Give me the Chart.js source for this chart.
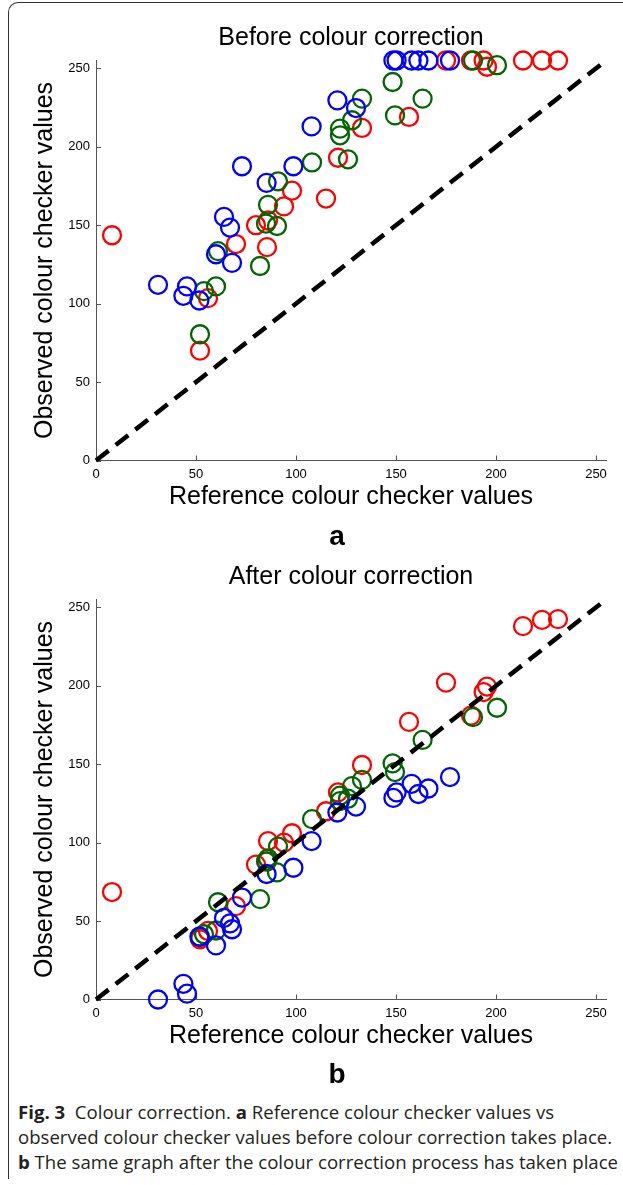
<!DOCTYPE html>
<html>
<head>
<meta charset="utf-8">
<script src="https://cdn.jsdelivr.net/npm/chart.js@4.4.1/dist/chart.umd.min.js"></script>
<style>
  body { margin: 0; background: #fff; }
  #page { position: relative; width: 623px; height: 1185px; overflow: hidden; }
  #frame { position: absolute; left: 8px; top: 2px; width: 700px; height: 1176px;
           border-left: 1px solid #333; border-top: 1px solid #333; border-top-left-radius: 10px; }
  canvas { position: absolute; left: 0; }
  .panel { position: absolute; left: 322px; width: 30px; text-align: center;
           font: bold 28px "Liberation Sans", Arial, sans-serif; line-height: 28px; }
  #caption { position: absolute; left: 18px; top: 1099px; width: 605px;
             font: 18.6px "Open Sans", sans-serif; line-height: 25px; color: #231f20; white-space: nowrap; }
</style>
</head>
<body>
<div id="page">
  <div id="frame"></div>
  <canvas id="before" width="623" height="520" style="top:0px"></canvas>
  <canvas id="after" width="623" height="520" style="top:539px"></canvas>
  <div class="panel" style="top:522px">a</div>
  <div class="panel" style="top:1060px">b</div>
  <div id="caption"><b>Fig. 3</b>&nbsp; Colour correction. <b>a</b> Reference colour checker values vs<br>observed colour checker values before colour correction takes place.<br><b>b</b> The same graph after the colour correction process has taken place</div>
</div>
<script>
// reference (x) values of the checker patches, per channel
const redX = [8, 52, 56, 70, 80, 85.5, 86, 94, 98, 115, 121, 133, 156.5, 175, 187.5, 193.8, 195.5, 213.5, 223, 231];
const greenX = [52, 54, 60, 61, 82, 85, 86, 90.5, 91, 108, 122, 122, 126, 128, 133, 148.3, 149.5, 163.3, 188.5, 200.5];
const blueX = [31, 43.7, 45.5, 51.7, 60, 64, 67, 68, 73, 85.3, 98.7, 107.8, 120.7, 130, 148.7, 150.3, 157.8, 161.2, 166.2, 177];

// observed values before correction
const redBefore = [143.6, 70, 103.5, 138, 150, 136, 153, 162, 172, 167, 193, 212, 219, 255, 255, 255, 251, 255, 255, 255];
const greenBefore = [80.5, 108, 111, 133.5, 124, 151, 163, 149.5, 178, 190, 211.6, 207.3, 192, 216.9, 230.7, 241.3, 220, 230.7, 255, 252];
const blueBefore = [112, 105, 111, 102, 131.5, 155.3, 148.5, 126, 187.6, 177, 187.6, 213, 229.6, 224.7, 255, 255, 255, 255, 255, 255];

// observed values after correction
const redAfter = [68.5, 38.4, 43.7, 59.5, 86, 88, 101, 100, 106, 120, 132, 149.5, 177, 202, 181, 196, 199.5, 238, 242, 242.5];
const greenAfter = [40, 41.6, 44, 62, 64, 88, 90, 81, 97.5, 115, 130, 126.5, 128, 136, 140, 150.5, 145, 165.5, 180, 186];
const blueAfter = [0, 10, 3.7, 40, 34.5, 52, 48.5, 44.8, 65, 80, 84, 101, 119.2, 123, 128.5, 132, 137.5, 131, 134.5, 141.8];

const diagonal = [0, 255];
const tickValues = [0, 50, 100, 150, 200, 250];

const font = "'Liberation Sans', Arial, sans-serif";
const axisColor = "#555";

const pts = (xs, ys) => xs.map((x, i) => ({ x: x, y: ys[i] }));

// MATLAB-style ticks pointing into the plot
const innerTicks = {
    id: "innerTicks",
    beforeDatasetsDraw(chart) {
        const { ctx, chartArea: a, scales } = chart;
        ctx.save();
        ctx.strokeStyle = axisColor;
        ctx.lineWidth = 1;
        ctx.beginPath();
        tickValues.forEach(v => {
            const px = Math.round(scales.x.getPixelForValue(v)) + 0.5;
            ctx.moveTo(px, a.bottom);
            ctx.lineTo(px, a.bottom - 5);
            const py = Math.round(scales.y.getPixelForValue(v)) + 0.5;
            ctx.moveTo(a.left, py);
            ctx.lineTo(a.left + 5, py);
        });
        ctx.stroke();
        ctx.restore();
    },
};

function circles(label, data, color, order) {
    return {
        type: "scatter",
        label: label,
        data: data,
        borderColor: color,
        backgroundColor: "rgba(0,0,0,0)",
        borderWidth: 2.3,
        pointRadius: 9,
        pointHoverRadius: 9,
        order: order,
        clip: false,
    };
}

function makeChart(id, title, red, green, blue) {
    new Chart(document.getElementById(id), {
        type: "scatter",
        data: {
            datasets: [
                {
                    type: "line",
                    label: "y = x",
                    data: pts(diagonal, diagonal),
                    borderColor: "#000",
                    borderWidth: 4.5,
                    borderDash: [16, 9],
                    pointRadius: 0,
                    order: 0,
                    clip: false,
                },
                circles("Blue", pts(blueX, blue), "#0000ff", 1),
                circles("Green", pts(greenX, green), "#006600", 2),
                circles("Red", pts(redX, red), "#ff0000", 3),
            ],
        },
        options: {
            responsive: false,
            animation: false,
            events: [],
            layout: { padding: { left: 0, right: 17, top: 0, bottom: 0 } },
            plugins: {
                legend: { display: false },
                tooltip: { enabled: false },
                title: {
                    display: true,
                    text: title,
                    fullSize: false,
                    color: "#000",
                    font: { family: font, size: 25, weight: "normal", lineHeight: 1.2 },
                    padding: { top: 23, bottom: 7.5 },
                },
            },
            scales: {
                x: {
                    type: "linear",
                    min: 0,
                    max: 255,
                    afterBuildTicks: s => { s.ticks = tickValues.map(v => ({ value: v })); },
                    afterFit: s => { s.height = 59.5; },
                    grid: { display: false, drawTicks: false },
                    border: { display: true, color: axisColor, width: 1 },
                    ticks: { color: "#000", padding: 6, maxRotation: 0, font: { family: font, size: 13 } },
                    title: {
                        display: true,
                        text: "Reference colour checker values",
                        color: "#000",
                        font: { family: font, size: 25, lineHeight: 1.2 },
                        padding: { top: 0, bottom: 8 },
                    },
                },
                y: {
                    type: "linear",
                    min: 0,
                    max: 255,
                    afterBuildTicks: s => { s.ticks = tickValues.map(v => ({ value: v })); },
                    afterFit: s => { s.width = 96; },
                    grid: { display: false, drawTicks: false },
                    border: { display: true, color: axisColor, width: 1 },
                    ticks: { color: "#000", padding: 6, font: { family: font, size: 13 } },
                    title: {
                        display: true,
                        text: "Observed colour checker values",
                        color: "#000",
                        font: { family: font, size: 25, lineHeight: 1.2 },
                        padding: { top: 30, bottom: 0 },
                    },
                },
            },
        },
        plugins: [innerTicks],
    });
}

makeChart("before", "Before colour correction", redBefore, greenBefore, blueBefore);
makeChart("after", "After colour correction", redAfter, greenAfter, blueAfter);
</script>
</body>
</html>
